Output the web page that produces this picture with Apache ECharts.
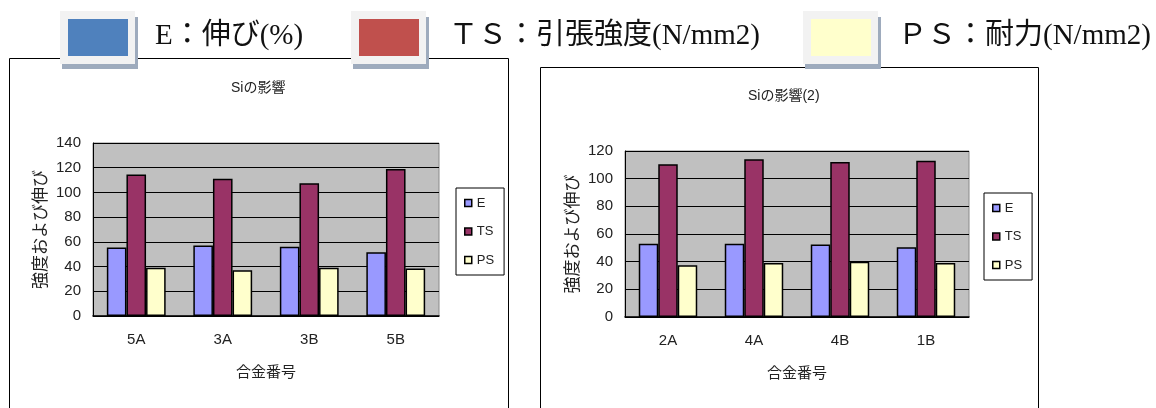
<!DOCTYPE html>
<html>
<head>
<meta charset="utf-8">
<script src="https://cdn.jsdelivr.net/npm/echarts@6/dist/echarts.min.js"></script>
<style>
  html, body { margin: 0; padding: 0; background: #fff; }
  #chart { width: 1156px; height: 408px; }
</style>
</head>
<body>
<div id="chart"></div>
<script>
// Alloy groups and measured properties
const alloysA = ['5A', '3A', '3B', '5B'];
const elongA = [55.5, 57, 56, 51.5];
const tensileA = [114.5, 111, 107.5, 119];
const proofA = [39, 37, 39, 38.5];

const alloysB = ['2A', '4A', '4B', '1B'];
const elongB = [53, 53, 52.5, 50.5];
const tensileB = [110.5, 114, 112, 113];
const proofB = [37.5, 39, 40, 39];

const seriesNames = ['E', 'TS', 'PS'];
const seriesColors = ['#9999FF', '#993366', '#FFFFCC'];
const keyLabels = ['E：伸び(%)', 'ＴＳ：引張強度(N/mm2)', 'ＰＳ：耐力(N/mm2)'];
const keyColors = ['#4F81BD', '#C0504D', '#FFFFCC'];

const titles = ['Siの影響', 'Siの影響(2)'];
const yName = '強度および伸び';
const xName = '合金番号';

const SANS = "'Liberation Sans', 'Noto Sans CJK JP', sans-serif";
const SERIF = "'Liberation Serif', 'Noto Sans CJK JP', serif";

const grids = [
  { left: 93, top: 143, width: 346, height: 173 },
  { left: 625, top: 151, width: 344, height: 166 }
];

function xAxisFor(idx, cats) {
  return {
    type: 'category', gridIndex: idx, data: cats,
    axisLine: { lineStyle: { color: '#000', width: 1.5 } },
    axisTick: { inside: true, length: 4, lineStyle: { color: '#000' } },
    axisLabel: { color: '#222', fontFamily: SANS, fontSize: 15, margin: 16 },
    name: xName, nameLocation: 'middle', nameGap: 49,
    nameTextStyle: { color: '#222', fontFamily: SANS, fontSize: 15 }
  };
}
function yAxisFor(idx, max) {
  return {
    type: 'value', gridIndex: idx, min: 0, max: max, interval: 20,
    axisLine: { show: true, lineStyle: { color: '#000', width: 1 } },
    axisTick: { show: true, inside: true, length: 4, lineStyle: { color: '#000' } },
    splitLine: { lineStyle: { color: '#000', width: 1 } },
    axisLabel: { color: '#222', fontFamily: SANS, fontSize: 15, margin: 12 },
    name: yName, nameLocation: 'middle', nameRotate: 90, nameGap: 43,
    nameTextStyle: { color: '#222', fontFamily: SANS, fontSize: 17 }
  };
}
function barsFor(idx, values) {
  return values.map((vals, i) => ({
    name: seriesNames[i], type: 'bar', xAxisIndex: idx, yAxisIndex: idx,
    data: vals, barGap: '0%', barCategoryGap: '32%',
    itemStyle: { color: seriesColors[i], borderColor: '#000', borderWidth: 1.5 },
    emphasis: { disabled: true }, animation: false
  }));
}
function legendAt(left, top) {
  return {
    data: seriesNames, orient: 'vertical', left: left, top: top,
    icon: 'rect', itemWidth: 7, itemHeight: 7, itemGap: 14.5,
    padding: [8, 10, 8, 8],
    backgroundColor: '#fff', borderColor: '#000', borderWidth: 1,
    selectedMode: false,
    itemStyle: { borderColor: '#000', borderWidth: 1.5 },
    textStyle: { color: '#222', fontFamily: SANS, fontSize: 13, lineHeight: 14 }
  };
}

// Colour key across the top, drawn as boxed swatches with captions
const keyBoxX = [60, 351, 803];
const keyTextX = [155, 449, 898];
const keyGraphics = [];
keyBoxX.forEach((x, i) => {
  keyGraphics.push({ type: 'rect', z: 10, shape: { x: x + 2, y: 17, width: 76, height: 52 }, style: { fill: '#9eabbd' } });
  keyGraphics.push({ type: 'rect', z: 11, shape: { x: x, y: 11, width: 75, height: 53 }, style: { fill: '#f2f2f2' } });
  keyGraphics.push({ type: 'rect', z: 12, shape: { x: x + 8, y: 19, width: 60, height: 37 }, style: { fill: keyColors[i] } });
  keyGraphics.push({ type: 'text', z: 12, x: keyTextX[i], y: 36,
    style: { text: keyLabels[i], fill: '#111', font: '29px ' + SERIF, verticalAlign: 'middle', textAlign: 'left' } });
});

const frames = [
  { type: 'rect', z: 1, shape: { x: 9.5, y: 58.5, width: 499, height: 400 }, style: { fill: 'none', stroke: '#000', lineWidth: 1 } },
  { type: 'rect', z: 1, shape: { x: 540.5, y: 67.5, width: 498, height: 400 }, style: { fill: 'none', stroke: '#000', lineWidth: 1 } }
];

const option = {
  backgroundColor: '#fff',
  animation: false,
  title: [
    { text: titles[0], left: 231, top: 81, padding: 0, textStyle: { fontFamily: SANS, fontSize: 14, fontWeight: 'normal', color: '#222' } },
    { text: titles[1], left: 748, top: 89, padding: 0, textStyle: { fontFamily: SANS, fontSize: 14, fontWeight: 'normal', color: '#222' } }
  ],
  grid: grids.map(g => Object.assign({ show: true, backgroundColor: '#C0C0C0', borderColor: '#8a8a8a', borderWidth: 1, containLabel: false }, g)),
  xAxis: [xAxisFor(0, alloysA), xAxisFor(1, alloysB)],
  yAxis: [yAxisFor(0, 140), yAxisFor(1, 120)],
  legend: [legendAt(456, 188), legendAt(984, 193)],
  series: barsFor(0, [elongA, tensileA, proofA]).concat(barsFor(1, [elongB, tensileB, proofB])),
  graphic: frames.concat(keyGraphics)
};

const chart = echarts.init(document.getElementById('chart'), null, { renderer: 'canvas' });
chart.setOption(option);
</script>
</body>
</html>
